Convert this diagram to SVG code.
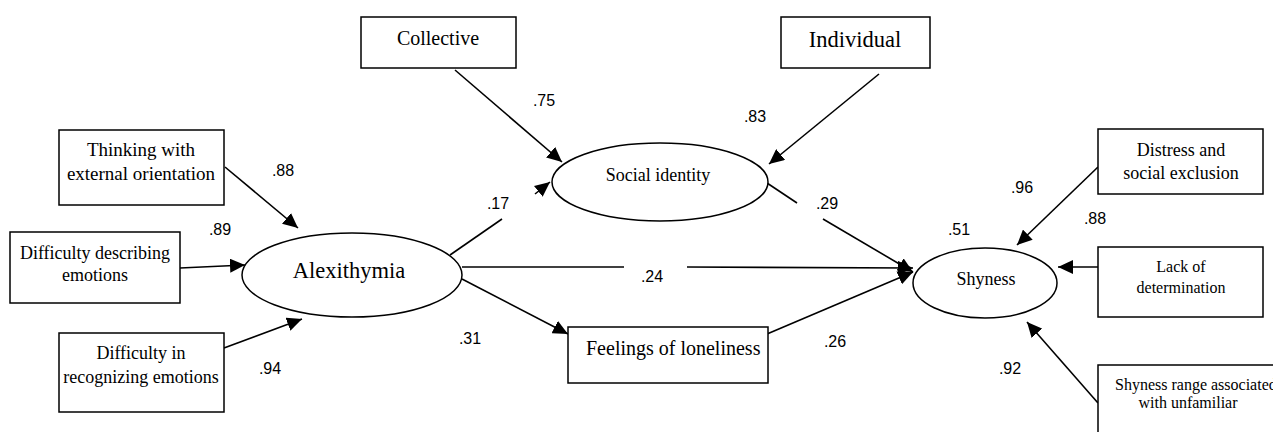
<svg xmlns="http://www.w3.org/2000/svg" width="1273" height="432" viewBox="0 0 1273 432">
<style>
.box{fill:#fff;stroke:#000;stroke-width:1.5}
.ell{fill:#fff;stroke:#000;stroke-width:1.5}
.t{font-family:'Liberation Serif','Times New Roman','DejaVu Serif',serif;fill:#000;text-anchor:middle}
.n{font-family:'Liberation Sans',Arial,sans-serif;font-size:16px;fill:#000;text-anchor:middle}
.c{stroke:#000;stroke-width:1.6;fill:none}
</style>
<defs>
<marker id="ah" markerUnits="userSpaceOnUse" markerWidth="16" markerHeight="14" refX="15" refY="7" orient="auto">
<path d="M0,0 L15,7 L0,14 z" fill="#000"/>
</marker>
</defs>
<rect width="1273" height="432" fill="#fff"/>
<g id="connectors">
<line class="c" x1="225" y1="167" x2="298" y2="228" marker-end="url(#ah)"/>
<line class="c" x1="180" y1="268" x2="245" y2="265" marker-end="url(#ah)"/>
<line class="c" x1="224" y1="348" x2="302" y2="319" marker-end="url(#ah)"/>
<line class="c" x1="455" y1="70" x2="562" y2="162" marker-end="url(#ah)"/>
<line class="c" x1="879" y1="74" x2="769" y2="164" marker-end="url(#ah)"/>
<line class="c" x1="450" y1="255" x2="502" y2="219"/>
<line class="c" x1="535" y1="194" x2="550" y2="182" marker-end="url(#ah)"/>
<line class="c" x1="767" y1="183" x2="797" y2="203"/>
<line class="c" x1="823" y1="219" x2="913" y2="272" marker-end="url(#ah)"/>
<line class="c" x1="462" y1="267" x2="624" y2="267"/>
<line class="c" x1="687" y1="267" x2="913" y2="268" marker-end="url(#ah)"/>
<line class="c" x1="462" y1="279" x2="568" y2="334" marker-end="url(#ah)"/>
<line class="c" x1="767" y1="334" x2="913" y2="272" marker-end="url(#ah)"/>
<line class="c" x1="1098" y1="167" x2="1017" y2="245" marker-end="url(#ah)"/>
<line class="c" x1="1098" y1="267" x2="1058" y2="267" marker-end="url(#ah)"/>
<line class="c" x1="1098" y1="403" x2="1027" y2="322" marker-end="url(#ah)"/>
</g>
<g id="thinking">
<rect class="box" x="59" y="130" width="165" height="75"/>
<text class="t" font-size="19" x="141" y="156">Thinking with</text>
<text class="t" font-size="19" x="141" y="180">external orientation</text>
</g>
<g id="describing">
<rect class="box" x="10" y="232" width="170" height="71"/>
<text class="t" font-size="18" x="95" y="259">Difficulty describing</text>
<text class="t" font-size="18" x="95" y="281">emotions</text>
</g>
<g id="recognizing">
<rect class="box" x="59" y="333" width="165" height="79"/>
<text class="t" font-size="18" x="141" y="359">Difficulty in</text>
<text class="t" font-size="18" x="141" y="383">recognizing emotions</text>
</g>
<g id="alexithymia">
<ellipse class="ell" cx="352" cy="275" rx="110" ry="42"/>
<text class="t" font-size="22.5" x="349" y="278">Alexithymia</text>
</g>
<g id="collective">
<rect class="box" x="361" y="17" width="155" height="51"/>
<text class="t" font-size="20" x="438" y="45">Collective</text>
</g>
<g id="individual">
<rect class="box" x="781" y="17" width="149" height="51"/>
<text class="t" font-size="22.5" x="855" y="47">Individual</text>
</g>
<g id="social-identity">
<ellipse class="ell" cx="660" cy="182" rx="108" ry="39"/>
<text class="t" font-size="18" x="658" y="181">Social identity</text>
</g>
<g id="loneliness">
<rect class="box" x="568" y="327" width="200" height="56"/>
<text class="t" font-size="20" x="586" y="355" style="text-anchor:start">Feelings of loneliness</text>
</g>
<g id="shyness">
<ellipse class="ell" cx="985" cy="283" rx="72" ry="35"/>
<text class="t" font-size="18" x="986" y="285">Shyness</text>
</g>
<g id="distress">
<rect class="box" x="1098" y="129" width="165" height="65"/>
<text class="t" font-size="18" x="1181" y="156">Distress and</text>
<text class="t" font-size="18" x="1181" y="179">social exclusion</text>
</g>
<g id="lack">
<rect class="box" x="1098" y="247" width="165" height="70"/>
<text class="t" font-size="16" x="1181" y="272">Lack of</text>
<text class="t" font-size="16" x="1181" y="293">determination</text>
</g>
<g id="shyness-range">
<rect class="box" x="1098" y="365" width="190" height="90"/>
<text class="t" font-size="16" x="1115" y="390" style="text-anchor:start">Shyness range associated</text>
<text class="t" font-size="16" x="1188" y="408">with unfamiliar</text>
</g>
<g id="labels">
<text class="n" x="283" y="176">.88</text>
<text class="n" x="220" y="235">.89</text>
<text class="n" x="270" y="374">.94</text>
<text class="n" x="544" y="106">.75</text>
<text class="n" x="755" y="122">.83</text>
<text class="n" x="498" y="209">.17</text>
<text class="n" x="827" y="209">.29</text>
<text class="n" x="652" y="282">.24</text>
<text class="n" x="470" y="344">.31</text>
<text class="n" x="835" y="347">.26</text>
<text class="n" x="959" y="235">.51</text>
<text class="n" x="1022" y="193">.96</text>
<text class="n" x="1095" y="224">.88</text>
<text class="n" x="1010" y="374">.92</text>
</g>
</svg>
